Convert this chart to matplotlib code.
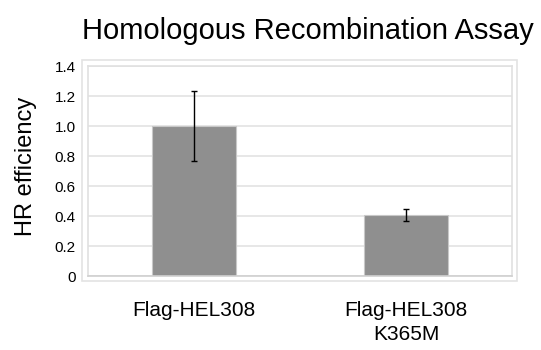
import matplotlib
matplotlib.use('Agg')
import matplotlib.pyplot as plt
from matplotlib.patches import Rectangle

plt.rcParams['font.family'] = ['Liberation Sans', 'DejaVu Sans']

# Data
categories = ['Flag-HEL308', 'Flag-HEL308\nK365M']
efficiency = [1.0, 0.41]
errors = [0.235, 0.04]
yticks = [0, 0.2, 0.4, 0.6, 0.8, 1.0, 1.2, 1.4]
ytick_labels = ['0', '0.2', '0.4', '0.6', '0.8', '1.0', '1.2', '1.4']

W, H = 541, 350
fig = plt.figure(figsize=(W / 100, H / 100), dpi=100)

# axes placed in pixel terms of the reference
left, right, top, bottom = 88, 512, 66, 276
ax = fig.add_axes([left / W, 1 - bottom / H, (right - left) / W, (bottom - top) / H])

x = range(len(categories))
ax.bar(x, efficiency, width=0.4, color='#8f8f8f', edgecolor='#c8c8c8', linewidth=0.8, zorder=2)
ax.errorbar(x, efficiency, yerr=errors, fmt='none', ecolor='black',
            elinewidth=1.0, capsize=2.5, capthick=1.0, zorder=3)

ax.set_xlim(-0.5, 1.5)
ax.set_ylim(0, 1.4)
ax.set_yticks(yticks)
ax.set_yticklabels(ytick_labels, fontsize=11)
ax.set_xticks(list(x))
ax.set_xticklabels(categories, fontsize=15, linespacing=1.35)
ax.tick_params(axis='both', length=0)
ax.tick_params(axis='y', pad=9)
ax.tick_params(axis='x', pad=18)

ax.yaxis.grid(True, color='#e3e3e3', linewidth=1.2, zorder=0)
ax.set_axisbelow(True)
for side in ['left', 'top', 'right']:
    ax.spines[side].set_color('#e0e0e0')
    ax.spines[side].set_linewidth(1.2)
ax.spines['bottom'].set_color('#d0d0d0')
ax.spines['bottom'].set_linewidth(1.2)

ax.set_ylabel('HR efficiency', fontsize=17)
ax.yaxis.set_label_coords(-51 / (right - left), 0.52)

# outer light border around the plot area
fig.patches.append(Rectangle((82 / W, 1 - 281 / H), (517 - 82) / W, (281 - 60) / H,
                             transform=fig.transFigure, fill=False,
                             edgecolor='#e3e3e3', linewidth=1.2))

fig.text(308 / W, 1 - 31 / H, 'Homologous Recombination Assay', fontsize=21,
         ha='center', va='center')

fig.savefig('out.png', dpi=100)
